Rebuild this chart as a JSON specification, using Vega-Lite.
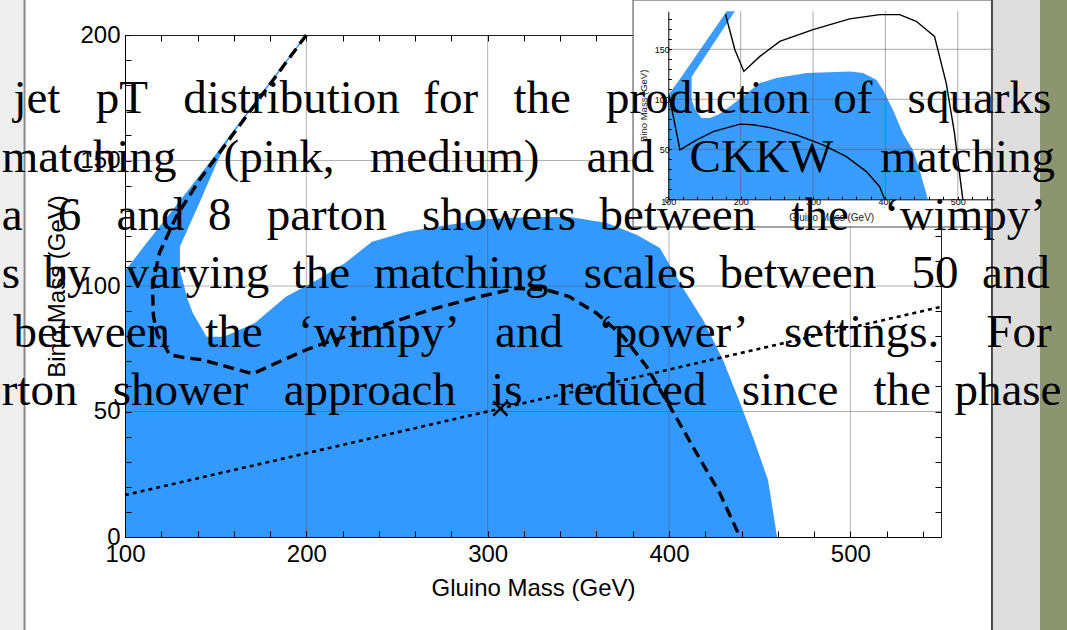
{
  "$schema": "https://vega.github.io/schema/vega-lite/v6.json",
  "width": 816,
  "height": 502,
  "autosize": {"type": "none"},
  "padding": {"left": 125, "top": 35, "right": 126, "bottom": 93},
  "background": "white",
  "config": {"view": {"stroke": "#222222", "strokeWidth": 1}, "font": "Liberation Sans"},
  "data": {"values": [{}]},
  "datasets": {
    "body": [{"x":100,"y":106},{"x":130.3,"y":106},{"x":134,"y":95.7},{"x":137.4,"y":89.2},{"x":145,"y":79.8},{"x":154.5,"y":79.8},{"x":171.6,"y":85.3},{"x":188.7,"y":95.7},{"x":205.8,"y":102.4},{"x":221,"y":109},{"x":236.2,"y":117.6},{"x":255.1,"y":121.6},{"x":278,"y":124.3},{"x":299.7,"y":126.7},{"x":323.4,"y":127.5},{"x":345.4,"y":127.5},{"x":365.8,"y":125.1},{"x":382.4,"y":120.3},{"x":395,"y":115.1},{"x":407.7,"y":99.2},{"x":418.8,"y":86.5},{"x":429.8,"y":70.5},{"x":439.2,"y":53.4},{"x":446.3,"y":39.8},{"x":454.6,"y":22.7},{"x":459.6,"y":0}],
    "wedge": [{"y":96,"xl":100,"xr":134},{"y":106,"xl":100,"xr":130.3},{"y":115.7,"xl":110.4,"xr":130.3},{"y":133.9,"xl":130.2,"xr":141.5},{"y":150.2,"xl":147.7,"xr":151.3},{"y":158.2,"xl":155.8,"xr":157},{"y":200,"xl":199.5,"xr":200.4}],
    "dashed": [{"i":1,"x":200,"y":200},{"i":2,"x":161.4,"y":162.2},{"i":3,"x":141.1,"y":142.3},{"i":4,"x":128.3,"y":127.7},{"i":5,"x":119,"y":113.2},{"i":6,"x":115.1,"y":99.8},{"i":7,"x":115.7,"y":87.8},{"i":8,"x":117.9,"y":80.5},{"i":9,"x":120.9,"y":77.4},{"i":10,"x":124.6,"y":72.6},{"i":11,"x":133.4,"y":71.4},{"i":12,"x":142.8,"y":70.6},{"i":13,"x":156.6,"y":67.8},{"i":14,"x":170.4,"y":65},{"i":15,"x":183.4,"y":69.3},{"i":16,"x":200,"y":74.6},{"i":17,"x":212.8,"y":77.9},{"i":18,"x":240.4,"y":83.9},{"i":19,"x":268,"y":90.5},{"i":20,"x":295.6,"y":95.8},{"i":21,"x":315.9,"y":99.1},{"i":22,"x":332.4,"y":98.5},{"i":23,"x":344.9,"y":95.8},{"i":24,"x":360,"y":89.2},{"i":25,"x":374.7,"y":79.9},{"i":26,"x":387.6,"y":67.9},{"i":27,"x":400.5,"y":52},{"i":28,"x":415.2,"y":33.4},{"i":29,"x":428,"y":17.5},{"i":30,"x":439.1,"y":0}],
    "dotted": [{"x":100,"y":16.7},{"x":550,"y":91.7}],
    "marker": [{"x":307,"y":51.2}],
    "gridx": [{"g":200},{"g":300},{"g":400},{"g":500}],
    "gridy": [{"g":50},{"g":100},{"g":150}],
    "ibody": [{"x":100,"y":99.5},{"x":132.3,"y":99.5},{"x":137,"y":90},{"x":146,"y":81.2},{"x":157.5,"y":81.2},{"x":170,"y":85},{"x":185.1,"y":92.8},{"x":205,"y":104},{"x":226.5,"y":116.2},{"x":249.5,"y":121.2},{"x":290.9,"y":126.3},{"x":350.6,"y":127.9},{"x":369,"y":126.3},{"x":387.4,"y":119.5},{"x":396.6,"y":109.5},{"x":410.3,"y":89.5},{"x":424.1,"y":66.1},{"x":437.9,"y":49.4},{"x":447.2,"y":29.4},{"x":458.6,"y":0}],
    "iwedge": [{"y":99.3,"xl":100,"xr":132.3},{"y":104.3,"xl":100,"xr":132.3},{"y":122.6,"xl":118.3,"xr":132.3},{"y":188,"xl":180.6,"xr":192}],
    "iline1": [{"i":1,"x":179,"y":185},{"i":2,"x":192,"y":149.6},{"i":3,"x":204.4,"y":127.9},{"i":4,"x":226.5,"y":142.9},{"i":5,"x":254,"y":157.9},{"i":6,"x":300,"y":169.6},{"i":7,"x":350.6,"y":180.4},{"i":8,"x":392,"y":184.7},{"i":9,"x":419.6,"y":184.7},{"i":10,"x":442.6,"y":178},{"i":11,"x":467.8,"y":162.9},{"i":12,"x":484,"y":116.2},{"i":13,"x":495.4,"y":66.1},{"i":14,"x":502.3,"y":26.1},{"i":15,"x":506.9,"y":0}],
    "iline2": [{"i":1,"x":101,"y":104},{"i":2,"x":106.9,"y":82.8},{"i":3,"x":116.1,"y":49.4},{"i":4,"x":139.2,"y":59.4},{"i":5,"x":162.1,"y":67.7},{"i":6,"x":198.9,"y":75.2},{"i":7,"x":217.2,"y":74.5},{"i":8,"x":240.3,"y":71.7},{"i":9,"x":277.1,"y":64.4},{"i":10,"x":313.8,"y":54.4},{"i":11,"x":346.1,"y":42.7},{"i":12,"x":373.7,"y":27.7},{"i":13,"x":392,"y":12.6},{"i":14,"x":398.9,"y":0}],
    "lines": [
      {"n":1,"t":"\u200b\u00a0jet\u00a0\u00a0\u00a0pT\u00a0\u00a0\u00a0distribution\u00a0\u00a0for\u00a0\u00a0\u00a0the\u00a0\u00a0\u00a0production\u00a0\u00a0of\u00a0\u00a0\u00a0squarks"},
      {"n":2,"t":"matching\u00a0\u00a0\u00a0\u00a0(pink,\u00a0\u00a0\u00a0medium)\u00a0\u00a0\u00a0\u00a0and\u00a0\u00a0\u00a0CKKW\u00a0\u00a0\u00a0\u00a0matching"},
      {"n":3,"t":"a\u00a0\u00a0\u00a06\u00a0\u00a0\u00a0and\u00a0\u00a08\u00a0\u00a0\u00a0parton\u00a0\u00a0\u00a0showers\u00a0\u00a0between\u00a0\u00a0\u00a0the\u00a0\u00a0\u00a0\u2018wimpy\u2019"},
      {"n":4,"t":"s\u00a0\u00a0by\u00a0\u00a0\u00a0varying\u00a0\u00a0the\u00a0\u00a0matching\u00a0\u00a0\u00a0scales\u00a0\u00a0between\u00a0\u00a0\u00a050\u00a0\u00a0and"},
      {"n":5,"t":"\u200b\u00a0between\u00a0\u00a0\u00a0the\u00a0\u00a0\u00a0\u2018wimpy\u2019\u00a0\u00a0\u00a0and\u00a0\u00a0\u00a0\u2018power\u2019\u00a0\u00a0\u00a0settings.\u00a0\u00a0\u00a0\u00a0For"},
      {"n":6,"t":"rton\u00a0\u00a0\u00a0shower\u00a0\u00a0\u00a0approach\u00a0\u00a0\u00a0is\u00a0\u00a0\u00a0reduced\u00a0\u00a0\u00a0since\u00a0\u00a0\u00a0the\u00a0\u00a0phase"}
    ]
  },
  "layer": [
    {"mark": {"type": "rect", "fill": "#eeeeee"},
     "encoding": {"x": {"datum": 31, "type": "quantitative", "scale": {"domain": [100, 550], "nice": false, "zero": false}, "axis": null}, "x2": {"datum": 44.6},
                  "y": {"datum": -37.2, "type": "quantitative", "scale": {"domain": [0, 200], "nice": false, "zero": false}, "axis": null}, "y2": {"datum": 214}}},
    {"mark": {"type": "rule", "stroke": "#8a8a8a", "strokeWidth": 2},
     "encoding": {"x": {"datum": 44.6, "type": "quantitative", "scale": {"domain": [100, 550], "nice": false, "zero": false}, "axis": null},
                  "y": {"datum": -37.2, "type": "quantitative", "scale": {"domain": [0, 200], "nice": false, "zero": false}, "axis": null}, "y2": {"datum": 214}}},
    {"mark": {"type": "rect", "fill": "#dedede"},
     "encoding": {"x": {"datum": 578.4, "type": "quantitative", "scale": {"domain": [100, 550], "nice": false, "zero": false}, "axis": null}, "x2": {"datum": 604.6},
                  "y": {"datum": -37.2, "type": "quantitative", "scale": {"domain": [0, 200], "nice": false, "zero": false}, "axis": null}, "y2": {"datum": 214}}},
    {"mark": {"type": "rect", "fill": "#8d9570"},
     "encoding": {"x": {"datum": 604.6, "type": "quantitative", "scale": {"domain": [100, 550], "nice": false, "zero": false}, "axis": null}, "x2": {"datum": 620},
                  "y": {"datum": -37.2, "type": "quantitative", "scale": {"domain": [0, 200], "nice": false, "zero": false}, "axis": null}, "y2": {"datum": 214}}},
    {"mark": {"type": "rule", "stroke": "#111111", "strokeWidth": 1.5},
     "encoding": {"x": {"datum": 578.1, "type": "quantitative", "scale": {"domain": [100, 550], "nice": false, "zero": false}, "axis": null},
                  "y": {"datum": -37.2, "type": "quantitative", "scale": {"domain": [0, 200], "nice": false, "zero": false}, "axis": null}, "y2": {"datum": 214}}},
    {"mark": {"type": "point", "opacity": 0},
     "encoding": {
       "x": {"datum": 100, "type": "quantitative", "scale": {"domain": [100, 550], "nice": false, "zero": false},
             "axis": {"orient": "top", "values": [120,140,160,180,200,220,240,260,280,300,320,340,360,380,400,420,440,460,480,500,520,540], "labels": false, "domain": false, "title": null, "grid": false, "tickSize": -6, "tickColor": "black", "zindex": 0}},
       "y": {"datum": 0, "type": "quantitative", "scale": {"domain": [0, 200], "nice": false, "zero": false},
             "axis": {"orient": "right", "values": [10,20,30,40,50,60,70,80,90,100,110,120,130,140,150,160,170,180,190], "labels": false, "domain": false, "title": null, "grid": false, "tickSize": -6, "tickColor": "black", "zindex": 0}}}},
    {"data": {"name": "body"},
     "mark": {"type": "area", "color": "#3399ff", "orient": "vertical"},
     "encoding": {
       "x": {"field": "x", "type": "quantitative", "scale": {"domain": [100, 550], "nice": false, "zero": false},
             "axis": {"orient": "bottom", "values": [100,120,140,160,180,200,220,240,260,280,300,320,340,360,380,400,420,440,460,480,500,520,540], "labelExpr": "datum.value % 100 === 0 ? datum.label : ''", "title": "Gluino Mass (GeV)", "grid": false, "tickSize": -6, "tickColor": "black", "domainColor": "black", "labelFont": "Liberation Sans", "labelFontSize": 24, "labelColor": "black", "labelPadding": 11.5, "labelOverlap": false, "labelFlush": false, "titleFont": "Liberation Sans", "titleFontSize": 24, "titleFontWeight": "normal", "titleColor": "black", "titlePadding": 9.5, "zindex": 1}},
       "y": {"field": "y", "type": "quantitative", "scale": {"domain": [0, 200], "nice": false, "zero": false},
             "axis": {"orient": "left", "values": [0,10,20,30,40,50,60,70,80,90,100,110,120,130,140,150,160,170,180,190,200], "labelExpr": "datum.value % 50 === 0 ? datum.label : ''", "title": "Bino Mass (GeV)", "grid": false, "tickSize": -6, "tickColor": "black", "domainColor": "black", "labelFont": "Liberation Sans", "labelFontSize": 24, "labelColor": "black", "labelPadding": 11, "labelOverlap": false, "labelFlush": false, "titleFont": "Liberation Sans", "titleFontSize": 24, "titleFontWeight": "normal", "titleColor": "black", "titlePadding": 10, "zindex": 1}},
       "y2": {"datum": 0}}},
    {"data": {"name": "wedge"},
     "mark": {"type": "area", "color": "#3399ff", "orient": "horizontal"},
     "encoding": {
       "y": {"field": "y", "type": "quantitative", "scale": {"domain": [0, 200], "nice": false, "zero": false}, "axis": null},
       "x": {"field": "xl", "type": "quantitative", "scale": {"domain": [100, 550], "nice": false, "zero": false}, "axis": null},
       "x2": {"field": "xr"}}},
    {"data": {"name": "gridx"},
     "mark": {"type": "rule", "stroke": "#555555", "strokeOpacity": 0.45, "strokeWidth": 1},
     "encoding": {"x": {"field": "g", "type": "quantitative", "scale": {"domain": [100, 550], "nice": false, "zero": false}, "axis": null}}},
    {"data": {"name": "gridy"},
     "mark": {"type": "rule", "stroke": "#555555", "strokeOpacity": 0.45, "strokeWidth": 1},
     "encoding": {"y": {"field": "g", "type": "quantitative", "scale": {"domain": [0, 200], "nice": false, "zero": false}, "axis": null}}},
    {"data": {"name": "dotted"},
     "mark": {"type": "line", "color": "black", "strokeWidth": 2.6, "strokeDash": [4, 4]},
     "encoding": {"x": {"field": "x", "type": "quantitative", "scale": {"domain": [100, 550], "nice": false, "zero": false}, "axis": null},
                  "y": {"field": "y", "type": "quantitative", "scale": {"domain": [0, 200], "nice": false, "zero": false}, "axis": null}}},
    {"data": {"name": "dashed"},
     "mark": {"type": "line", "color": "black", "strokeWidth": 3.4, "strokeDash": [11, 6]},
     "encoding": {"x": {"field": "x", "type": "quantitative", "scale": {"domain": [100, 550], "nice": false, "zero": false}, "axis": null},
                  "y": {"field": "y", "type": "quantitative", "scale": {"domain": [0, 200], "nice": false, "zero": false}, "axis": null},
                  "order": {"field": "i", "type": "quantitative"}}},
    {"data": {"name": "marker"},
     "mark": {"type": "point", "shape": "M-1,-1L1,1M1,-1L-1,1", "filled": false, "stroke": "black", "strokeWidth": 2.5, "size": 200, "opacity": 1},
     "encoding": {"x": {"field": "x", "type": "quantitative", "scale": {"domain": [100, 550], "nice": false, "zero": false}, "axis": null},
                  "y": {"field": "y", "type": "quantitative", "scale": {"domain": [0, 200], "nice": false, "zero": false}, "axis": null}}},
    {"mark": {"type": "rect", "fill": "white", "stroke": "#444444", "strokeWidth": 1},
     "encoding": {"x": {"datum": 51.3, "type": "quantitative", "scale": {"domain": [100, 550], "range": [543.3, 869], "nice": false, "zero": false}, "axis": null}, "x2": {"datum": 546.5},
                  "y": {"datum": -27.7, "type": "quantitative", "scale": {"domain": [0, 188], "range": [164.3, -23.7], "nice": false, "zero": false}, "axis": null}, "y2": {"datum": 199.3}}},
    {"data": {"name": "ibody"},
     "mark": {"type": "area", "color": "#3a9cff", "orient": "vertical"},
     "encoding": {
       "x": {"field": "x", "type": "quantitative", "scale": {"domain": [100, 550], "range": [543.3, 869], "nice": false, "zero": false},
             "axis": {"orient": "bottom", "offset": -337.7, "values": [100,120,140,160,180,200,220,240,260,280,300,320,340,360,380,400,420,440,460,480,500,520,540], "labelExpr": "datum.value % 100 === 0 ? datum.label : ''", "title": "Gluino Mass (GeV)", "grid": false, "tickSize": -3, "tickColor": "black", "domainColor": "black", "labelFont": "Liberation Sans", "labelFontSize": 9, "labelColor": "black", "labelPadding": 1, "labelOverlap": false, "labelFlush": false, "titleFont": "Liberation Sans", "titleFontSize": 10, "titleFontWeight": "normal", "titleColor": "#222222", "titlePadding": 6, "zindex": 1}},
       "y": {"field": "y", "type": "quantitative", "scale": {"domain": [0, 188], "range": [164.3, -23.7], "nice": false, "zero": false},
             "axis": {"orient": "left", "offset": -543.3, "values": [0,10,20,30,40,50,60,70,80,90,100,110,120,130,140,150,160,170,180], "labelExpr": "datum.value % 50 === 0 ? datum.label : ''", "title": "Bino Mass (GeV)", "grid": false, "tickSize": -3, "tickColor": "black", "domainColor": "black", "labelFont": "Liberation Sans", "labelFontSize": 9, "labelColor": "black", "labelPadding": 2, "labelOverlap": false, "labelFlush": false, "titleFont": "Liberation Sans", "titleFontSize": 9.5, "titleFontWeight": "normal", "titleColor": "#222222", "titlePadding": 6, "zindex": 1}},
       "y2": {"datum": 0}}},
    {"data": {"name": "iwedge"},
     "mark": {"type": "area", "color": "#3a9cff", "orient": "horizontal"},
     "encoding": {
       "y": {"field": "y", "type": "quantitative", "scale": {"domain": [0, 188], "range": [164.3, -23.7], "nice": false, "zero": false}, "axis": null},
       "x": {"field": "xl", "type": "quantitative", "scale": {"domain": [100, 550], "range": [543.3, 869], "nice": false, "zero": false}, "axis": null},
       "x2": {"field": "xr"}}},
    {"data": {"name": "gridx"},
     "mark": {"type": "rule", "stroke": "#555555", "strokeOpacity": 0.5, "strokeWidth": 1},
     "encoding": {"x": {"field": "g", "type": "quantitative", "scale": {"domain": [100, 550], "range": [543.3, 869], "nice": false, "zero": false}, "axis": null},
                  "y": {"datum": 0, "type": "quantitative", "scale": {"domain": [0, 188], "range": [164.3, -23.7], "nice": false, "zero": false}, "axis": null}, "y2": {"datum": 188}}},
    {"data": {"name": "gridy"},
     "mark": {"type": "rule", "stroke": "#555555", "strokeOpacity": 0.5, "strokeWidth": 1},
     "encoding": {"y": {"field": "g", "type": "quantitative", "scale": {"domain": [0, 188], "range": [164.3, -23.7], "nice": false, "zero": false}, "axis": null},
                  "x": {"datum": 100, "type": "quantitative", "scale": {"domain": [100, 550], "range": [543.3, 869], "nice": false, "zero": false}, "axis": null}, "x2": {"datum": 550}}},
    {"data": {"name": "iline1"},
     "mark": {"type": "line", "color": "black", "strokeWidth": 1.4},
     "encoding": {"x": {"field": "x", "type": "quantitative", "scale": {"domain": [100, 550], "range": [543.3, 869], "nice": false, "zero": false}, "axis": null},
                  "y": {"field": "y", "type": "quantitative", "scale": {"domain": [0, 188], "range": [164.3, -23.7], "nice": false, "zero": false}, "axis": null},
                  "order": {"field": "i", "type": "quantitative"}}},
    {"data": {"name": "iline2"},
     "mark": {"type": "line", "color": "black", "strokeWidth": 1.4},
     "encoding": {"x": {"field": "x", "type": "quantitative", "scale": {"domain": [100, 550], "range": [543.3, 869], "nice": false, "zero": false}, "axis": null},
                  "y": {"field": "y", "type": "quantitative", "scale": {"domain": [0, 188], "range": [164.3, -23.7], "nice": false, "zero": false}, "axis": null},
                  "order": {"field": "i", "type": "quantitative"}}},
    {"data": {"name": "lines"},
     "mark": {"type": "text", "align": "left", "baseline": "alphabetic", "font": "Liberation Serif", "fontSize": 47, "color": "black"},
     "encoding": {"x": {"datum": 32, "type": "quantitative", "scale": {"domain": [100, 550], "nice": false, "zero": false}, "axis": null},
                  "y": {"field": "n", "type": "quantitative", "scale": {"domain": [1, 6], "range": [78.3, 370], "nice": false, "zero": false}, "axis": null},
                  "text": {"field": "t", "type": "nominal"}}}
  ],
  "resolve": {"scale": {"x": "independent", "y": "independent"}}
}
